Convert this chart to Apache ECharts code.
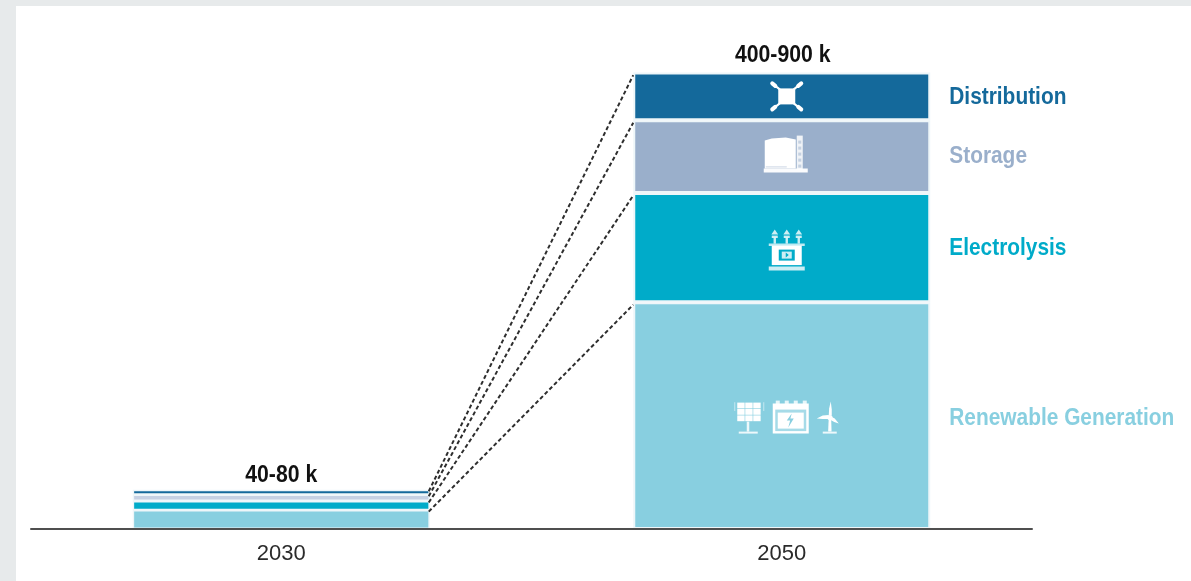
<!DOCTYPE html>
<html>
<head>
<meta charset="utf-8">
<style>
  html, body { margin: 0; height: 100%; background: #e7eaeb; overflow: hidden; }
  #panel { position: absolute; left: 16px; top: 6px; right: 0; bottom: 0; background: #fff; }
  #chart { position: absolute; left: 0; top: 0; width: 1191px; height: 581px; }
</style>
<script src="https://cdn.jsdelivr.net/npm/echarts@6/dist/echarts.min.js"></script>
</head>
<body>
<div id="panel"></div>
<div id="chart"></div>
<script>
// Thousands of jobs per value chain step
const years = ['2030', '2050'];
const renewableGeneration = [27, 324];
const electrolysis = [13, 156];
const storage = [9, 104];
const distribution = [7, 68];
const rangeLabels = ['40-80 k', '400-900 k'];
const stepNames = ['Renewable Generation', 'Electrolysis', 'Storage', 'Distribution'];
const stepColors = ['#88cfe0', '#00abc9', '#9aafcb', '#14699b'];
const thinStepColors = ['#88cfe0', '#00abc9', '#c6d1e3', '#14699b'];

const FONT = '"Liberation Sans", Arial, sans-serif';
const BAR_WIDTH = 297;
const steps = [renewableGeneration, electrolysis, storage, distribution];

// Running stack heights for each year, bottom step first
const stackTop = (yearIndex, stepIndex) =>
  steps.slice(0, stepIndex + 1).reduce((sum, s) => sum + s[yearIndex], 0);

const barSeries = steps.map((values, i) => ({
  name: stepNames[i],
  type: 'bar',
  stack: 'total',
  barWidth: BAR_WIDTH,
  itemStyle: { color: stepColors[i], borderColor: '#eef6f9', borderWidth: 2 },
  data: values.map((v, y) => ({
    value: v,
    itemStyle: {
      color: y === 0 ? thinStepColors[i] : stepColors[i],
      borderWidth: y === 0 ? 1.4 : 2
    }
  }))
}));

// White pictograms, drawn around the middle of each 2050 segment
const W = '#fff';
const rect = (x, y, width, height, fill = W, opacity = 1) =>
  ({ type: 'rect', shape: { x, y, width, height }, style: { fill, opacity } });
const line = (x1, y1, x2, y2, w = 2, stroke = W, opacity = 1) =>
  ({ type: 'line', shape: { x1, y1, x2, y2 }, style: { stroke, lineWidth: w, opacity, lineCap: 'round' } });
const poly = (points, fill = W, opacity = 1) =>
  ({ type: 'polygon', shape: { points }, style: { fill, opacity } });
const dot = (cx, cy, r, fill = W) =>
  ({ type: 'circle', shape: { cx, cy, r }, style: { fill } });

function distributionIcon() {
  const arms = [[-1, -1], [1, -1], [-1, 1], [1, 1]].flatMap(([a, b]) => [
    line(a * 7, b * 7, a * 12, b * 11, 2),
    line(a * 11.5, b * 10.5, a * 14.5, b * 13, 4)
  ]);
  return [rect(-8.5, -8, 17, 16), ...arms];
}

function storageIcon(bg) {
  const rungs = [-14, -8, -2, 4, 10].map(y => rect(12.5, y, 3, 3, bg, 0.5));
  return [
    poly([[-21, -14], [-14, -16], [0, -17], [10, -15], [10, 14], [-21, 14]]),
    rect(11, -19, 6, 34, W, 0.85),
    ...rungs,
    rect(-22, 14, 44, 4, W, 0.95),
    rect(-20, 11.5, 21, 1.5, bg, 0.35)
  ];
}

function electrolysisIcon(bg) {
  const bushings = [-12, 0, 12].flatMap(x => [
    poly([[x, -21], [x + 3.4, -16], [x - 3.4, -16]], W, 0.8),
    rect(x - 3, -15, 6, 2.4, W, 0.8),
    rect(x - 1.2, -13, 2.4, 6, W, 0.8)
  ]);
  return [
    ...bushings,
    rect(-18, -7, 36, 2.4, W, 0.75),
    rect(-15, -5, 30, 19.5),
    rect(-8, -1, 16, 11, bg),
    rect(-5, 1, 10, 7, W, 0.8),
    poly([[-1, 2], [2, 4.5], [-1, 7]], bg),
    rect(-18, 16, 36, 4, W, 0.8)
  ];
}

function renewablesIcon(bg) {
  const cells = [];
  for (let row = 0; row < 3; row++) {
    for (let col = 0; col < 3; col++) {
      cells.push(rect(-49.5 + col * 8, -15 + row * 6.4, 7.4, 5.8));
    }
  }
  return [
    ...cells,
    rect(-40, 4, 2.5, 10, W, 0.85),
    rect(-48, 14, 19, 2, W, 0.85),
    line(-52, -15, -52, -7, 1, W, 0.5),
    line(-23, -15, -23, -7, 1, W, 0.5),
    // battery case with a charge bolt
    ...[-9, 0, 9, 18].map(x => rect(x - 2, -17, 4, 4, W, 0.8)),
    rect(-14, -14, 36, 30),
    rect(-11.5, -8, 31, 21.5, bg, 0.75),
    rect(-9, -5, 26, 16),
    poly([[5, -4], [0, 3], [3.4, 3], [1.5, 10], [7, 1], [3.6, 1]], bg),
    // wind turbine
    poly([[42, 0], [44.4, 0], [44.8, 14], [41.4, 14]]),
    poly([[42, -2], [42.4, -9], [44, -16], [45, -8], [45, -2]]),
    poly([[42, -2.5], [36, -2], [30, 1], [36, 1.5], [42, 1.5]]),
    poly([[44, -1], [48, 1], [52, 6], [47.5, 4.5], [43, 2]]),
    dot(43.2, 0, 2.6),
    rect(36, 14, 14, 2, W, 0.85)
  ];
}

const icons = [renewablesIcon, electrolysisIcon, storageIcon, distributionIcon];
const iconOffsets = [[5, 2], [5, 3], [4, -2], [5, 0]];
const stepLabelNudge = [3, 1, 0, 1];
const rangeLabelGap = [14, 17];
const rangeLabelShift = [0, 1];

// Condensed bold text, squeezed horizontally from the regular sans face
const boldText = (text, x, y, fill, align, squeeze) => ({
  type: 'text',
  x, y,
  scaleX: squeeze,
  style: {
    text, fill, align,
    verticalAlign: 'middle',
    fontFamily: FONT,
    fontWeight: 'bold',
    fontSize: 24
  }
});

const option = {
  animation: false,
  grid: { left: 31, right: 159, top: 39, bottom: 52 },
  xAxis: {
    type: 'category',
    z: 6,
    data: years,
    axisLine: { lineStyle: { color: '#4f4f4f', width: 2 } },
    axisTick: { show: false },
    axisLabel: { fontFamily: FONT, fontSize: 22, color: '#2b2b2b', margin: 14 }
  },
  yAxis: { type: 'value', min: 0, max: 700, show: false },
  series: [
    ...barSeries,
    // Dashed connectors between the matching segment tops of both years
    {
      type: 'custom',
      z: 3,
      silent: true,
      data: stepNames.map((_, i) => [stackTop(0, i), stackTop(1, i)]),
      renderItem(params, api) {
        const from = api.coord([0, api.value(0)]);
        const to = api.coord([1, api.value(1)]);
        return {
          type: 'line',
          shape: {
            x1: from[0] + BAR_WIDTH / 2 - 1,
            y1: from[1] + 1.5,
            x2: to[0] - BAR_WIDTH / 2,
            y2: to[1] + 2.5
          },
          style: { stroke: '#2e2e2e', lineWidth: 2, lineDash: [4, 2.6] }
        };
      }
    },
    // Pictograms centred on the 2050 segments
    {
      type: 'custom',
      z: 4,
      silent: true,
      data: stepNames.map((_, i) => [1, stackTop(1, i) - steps[i][1] / 2]),
      renderItem(params, api) {
        const i = params.dataIndex;
        const c = api.coord([api.value(0), api.value(1)]);
        return {
          type: 'group',
          x: c[0] + iconOffsets[i][0],
          y: c[1] + iconOffsets[i][1],
          children: icons[i](stepColors[i])
        };
      }
    },
    // Step names to the right of the 2050 stack
    {
      type: 'custom',
      z: 5,
      silent: true,
      data: stepNames.map((_, i) => [1, stackTop(1, i) - steps[i][1] / 2]),
      renderItem(params, api) {
        const i = params.dataIndex;
        const c = api.coord([api.value(0), api.value(1)]);
        return boldText(stepNames[i], c[0] + BAR_WIDTH / 2 + 19, c[1] + stepLabelNudge[i], stepColors[i], 'left', 0.87);
      }
    },
    // Range labels above each stack
    {
      type: 'custom',
      z: 5,
      silent: true,
      data: years.map((_, y) => [y, stackTop(y, 3)]),
      renderItem(params, api) {
        const i = params.dataIndex;
        const c = api.coord([api.value(0), api.value(1)]);
        return boldText(rangeLabels[i], c[0] + rangeLabelShift[i], c[1] - rangeLabelGap[i], '#111', 'center', 0.885);
      }
    }
  ]
};

echarts.init(document.getElementById('chart')).setOption(option);
</script>
</body>
</html>
